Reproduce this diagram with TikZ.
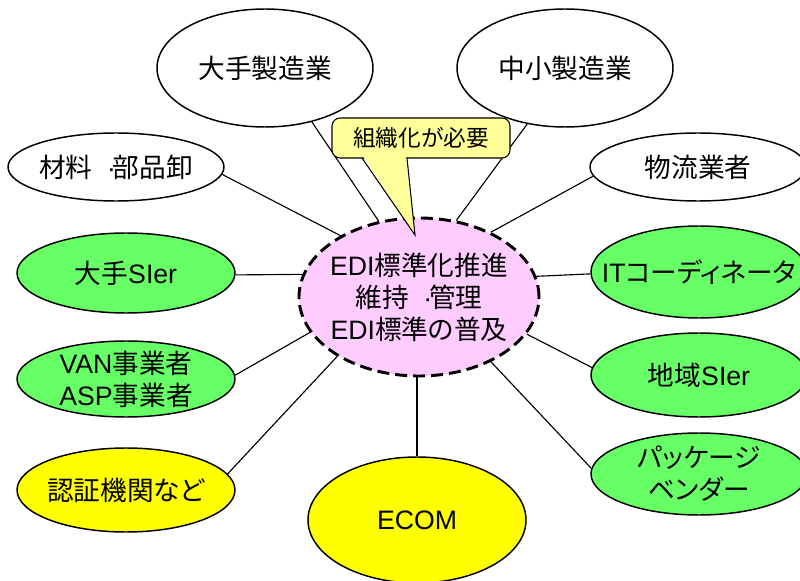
\documentclass[tikz,border=0pt]{standalone}
\usepackage{fontspec}
\setmainfont[RawFeature=+palt]{Noto Sans CJK JP}
\newfontfamily\latfont{Liberation Sans}
\newcommand\La[1]{{\latfont #1}}
\newcommand\mdot{\hspace{0.55em}\La{·}\hspace{-0.12em}}
\usetikzlibrary{shapes.geometric}
\definecolor{grn}{RGB}{102,255,102}
\definecolor{yel}{RGB}{255,255,0}
\definecolor{pnk}{RGB}{255,204,255}
\definecolor{cyel}{RGB}{255,255,153}
\tikzset{
  ell/.style={ellipse, draw, line width=1.1pt, inner sep=0pt},
  ellsz/.style 2 args={minimum width=#1*1.5pt, minimum height=#2*1.5pt},
  conn/.style={draw, line width=0.85pt},
  every label/.style={font=\fontsize{20}{24}\selectfont, align=center, inner sep=0pt},
  calloutbox/.style={draw, line width=0.8pt, fill=cyel, rounded corners=6pt,
     inner sep=0pt, font=\fontsize{17}{20}\selectfont},
}
\begin{document}
\begin{tikzpicture}[x=0.75pt, y=-0.75pt, font=\fontsize{20}{24}\selectfont]
\useasboundingbox (0,0) rectangle (800,581);
\clip (0,0) rectangle (800,581);
\fill[white] (0,0) rectangle (800,581);

% outer ellipses
\node[ell, fill=white, ellsz={108}{59}, label=center:{大手製造業}] (dt) at (265,68) {};
\node[ell, fill=white, ellsz={108}{59}, label=center:{中小製造業}] (ct) at (565,68) {};
\node[ell, fill=white, ellsz={108}{34}, label=center:{材料\mdot 部品卸}] (zb) at (116,167) {};
\node[ell, fill=white, ellsz={108}{34}, label=center:{物流業者}] (bt) at (698,167) {};
\node[ell, fill=grn, ellsz={109}{40}, label=center:{大手\La{SIer}}] (ds) at (126,273) {};
\node[ell, fill=grn, ellsz={108}{46}, label=center:{\La{IT}コーディネータ}] (it) at (699,272) {};
\node[ell, fill=grn, ellsz={109}{38}, label=center:{\La{VAN}事業者\\\La{ASP}事業者}] (van) at (126,379) {};
\node[ell, fill=grn, ellsz={108}{42}, label=center:{地域\La{SIer}}] (cs) at (699,375) {};
\node[ell, fill=yel, ellsz={109}{42}, label=center:{認証機関など}] (ninsho) at (126,490) {};
\node[ell, fill=grn, ellsz={108}{41}, label=center:{パッケージ\\ベンダー}] (pkg) at (699,474) {};
\node[ell, fill=yel, ellsz={109}{63}, label=center:{\La{ECOM}}] (ecom) at (417,520) {};

% central ellipse
\node[ell, fill=pnk, line width=2.2pt, dash pattern=on 9pt off 4.5pt, ellsz={120}{79},
  label=center:{\La{EDI}標準化推進\\維持\mdot 管理\\\La{EDI}標準の普及}] (edi) at (419,297) {};

% connectors
\draw[conn] (dt.-49.3) -- (edi.118.6);
\draw[conn] (ct.-124.6) -- (edi.64.3);
\draw[conn] (zb.-4.2) -- (edi.142.2);
\draw[conn] (bt.185.3) -- (edi.42.9);
\draw[conn] (ds.-1) -- (edi.169.6);
\draw[conn] (it.181.6) -- (edi.10.4);
\draw[conn] (van.2.1) -- (edi.198);
\draw[conn] (cs.176.3) -- (edi.-19.4);
\draw[conn] (ninsho.9.6) -- (edi.216.9);
\draw[conn] (pkg.177.8) -- (edi.-42.9);
\draw[conn] (ecom.north) -- (ecom.north |- edi.south);

% callout
\node[calloutbox, minimum width=178*0.75pt, minimum height=40*0.75pt] (call) at (421,138) {組織化が必要};
\coordinate (tip) at (415,235);
\fill[cyel] (363,156) -- (406,156) -- (tip) -- cycle;
\draw[line width=0.8pt] (362,158) -- (tip) -- (407,158);
\end{tikzpicture}
\end{document}
